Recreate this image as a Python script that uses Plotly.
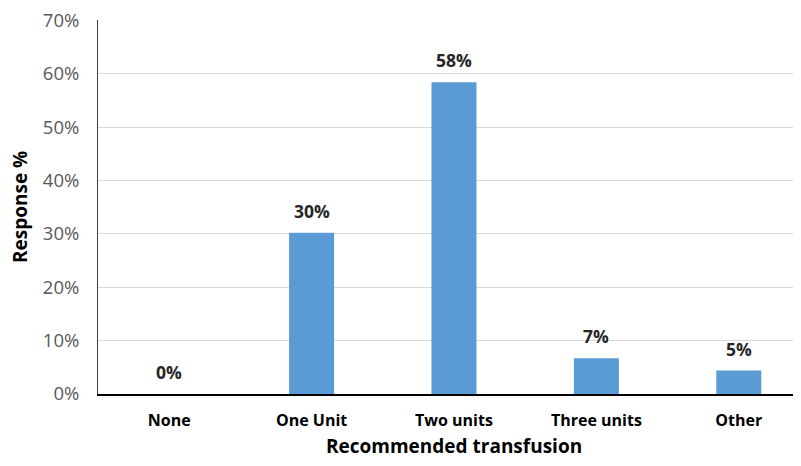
import plotly.graph_objects as go

categories = ["None", "One Unit", "Two units", "Three units", "Other"]
values = [0.0, 30.2, 58.4, 6.7, 4.4]
labels = ["0%", "30%", "58%", "7%", "5%"]
y_ticks = [0, 10, 20, 30, 40, 50, 60, 70]
y_tick_text = ["0%", "10%", "20%", "30%", "40%", "50%", "60%", "70%"]

FONT = "'Open Sans', Lato, sans-serif"

fig = go.Figure()
fig.add_trace(go.Bar(
    x=list(range(len(categories))),
    y=values,
    marker=dict(color="#5B9BD5", line=dict(width=0)),
    width=0.316,
    hoverinfo="skip",
))

for i, (v, t) in enumerate(zip(values, labels)):
    fig.add_annotation(
        x=i, y=v, text="<b>%s</b>" % t, showarrow=False,
        yanchor="middle", yshift=22,
        font=dict(family=FONT, size=17.5, color="#262626"),
    )

# axis titles
fig.add_annotation(
    x=2, xref="x", y=0, yref="paper", yanchor="middle", yshift=-52,
    text="<b>Recommended transfusion</b>", showarrow=False,
    font=dict(family=FONT, size=19, color="#000000"),
)
fig.add_annotation(
    x=0, xref="paper", xanchor="center", xshift=-78, y=0.5, yref="paper",
    yanchor="middle", textangle=-90,
    text="<b>Response %</b>", showarrow=False,
    font=dict(family=FONT, size=19, color="#000000"),
)

# page body has an 8px margin, so the figure is drawn 8px in from the corner
fig.update_layout(
    width=793, height=458,
    margin=dict(l=90, r=1, t=12, b=72),
    paper_bgcolor="white", plot_bgcolor="white",
    showlegend=False,
    font=dict(family=FONT),
    xaxis=dict(
        range=[-0.5, 4.43],
        tickmode="array",
        tickvals=list(range(len(categories))),
        ticktext=["<b>%s</b>" % c for c in categories],
        tickfont=dict(size=16, color="#000000"),
        showline=True, linecolor="#000000", linewidth=1.5,
        showgrid=False, ticks="", ticklen=0,
        ticklabelstandoff=11,
        automargin=False,
        fixedrange=True,
    ),
    yaxis=dict(
        range=[0, 70.05],
        tickmode="array",
        tickvals=y_ticks,
        ticktext=y_tick_text,
        tickfont=dict(size=18.5, color="#595959"),
        showline=True, linecolor="#404040", linewidth=1,
        showgrid=True, gridcolor="#D9D9D9", gridwidth=1,
        zeroline=False,
        ticks="", ticklabelstandoff=14,
        ticklabeloverflow="allow",
        automargin=False,
        fixedrange=True,
    ),
)

fig.write_html("out.html")
